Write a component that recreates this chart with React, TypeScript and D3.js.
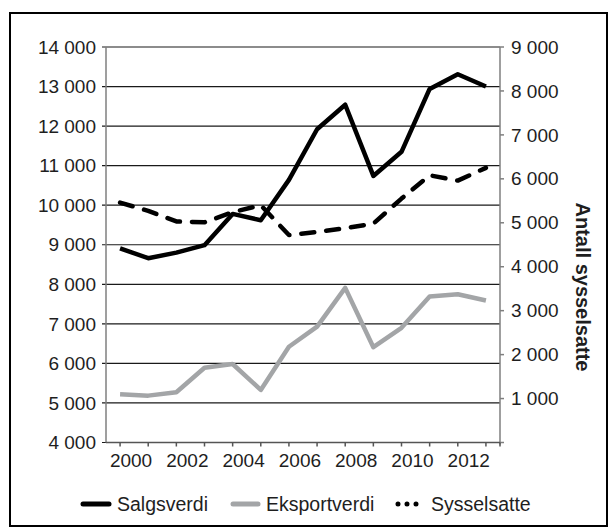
import React from "react";
import * as d3 from "d3";

const years = [2000, 2001, 2002, 2003, 2004, 2005, 2006, 2007, 2008, 2009, 2010, 2011, 2012, 2013];
const xLabels = ["2000", "2002", "2004", "2006", "2008", "2010", "2012"];
const salgsverdi = [8910, 8660, 8800, 8990, 9780, 9620, 10640, 11920, 12540, 10740, 11350, 12940, 13310, 13000];
const eksportverdi = [5220, 5185, 5270, 5890, 5985, 5330, 6420, 6930, 7910, 6410, 6900, 7690, 7750, 7590];
const sysselsatte = [5460, 5270, 5030, 5010, 5240, 5400, 4720, 4790, 4880, 4980, 5550, 6080, 5960, 6250];
const leftTicks = [4000, 5000, 6000, 7000, 8000, 9000, 10000, 11000, 12000, 13000, 14000];
const rightTicks = [0, 1000, 2000, 3000, 4000, 5000, 6000, 7000, 8000, 9000];
const seriesNames = ["Salgsverdi", "Eksportverdi", "Sysselsatte"];

const W = 611;
const H = 530;
const left = 106;
const right = 500;
const top = 47;
const bottom = 442.5;

const fmt = d3.formatLocale({ decimal: ",", thousands: "\u00a0", grouping: [3], currency: ["", " kr"] }).format(",d");
const FONT = "'Liberation Sans', Arial, sans-serif";
const TXT = "#1e1e1e";

export default function App() {
  const x = d3.scaleLinear().domain([-0.5, years.length - 0.5]).range([left, right]);
  const yL = d3.scaleLinear().domain([4000, 14000]).range([bottom, top]);
  const yR = d3.scaleLinear().domain([0, 9000]).range([bottom, top]);
  const step = x(1) - x(0);

  const lineL = d3.line<number>().x((_, i) => x(i)).y((d) => yL(d));
  const lineR = d3.line<number>().x((_, i) => x(i)).y((d) => yR(d));

  const xTicks = d3.range(0, years.length).concat([years.length - 0.5]);

  const legendY = 504;
  const legendItems = [
    { name: seriesNames[0], x0: 83, x1: 109, tx: 117, color: "#000", dash: undefined, w: 5 },
    { name: seriesNames[1], x0: 233, x1: 258, tx: 266, color: "#a3a5a7", dash: undefined, w: 5 },
    { name: seriesNames[2], x0: 398, x1: 422, tx: 431, color: "#000", dash: "0 9", w: 5 },
  ];

  return (
    <svg width={W} height={H} style={{ position: "absolute", left: 0, top: 0, background: "#fff" }}>
      <rect x={10} y={13} width={597} height={513} fill="#fff" stroke="#000" strokeWidth={2} />
      {/* gridlines */}
      {leftTicks.map((t) => (
        <line key={"g" + t} x1={left - 4} x2={right} y1={yL(t)} y2={yL(t)} stroke="#1a1a1a" strokeWidth={1.2} />
      ))}
      {/* left axis */}
      <line x1={left} x2={left} y1={top} y2={bottom} stroke="#7f7f7f" strokeWidth={1.5} />
      {leftTicks.map((t) => (
        <text key={"lt" + t} x={96} y={yL(t)} dy="0.35em" textAnchor="end" fontFamily={FONT} fontSize={19} fill={TXT}>
          {fmt(t)}
        </text>
      ))}
      {/* right axis */}
      <line x1={right} x2={right} y1={top} y2={bottom + 2} stroke="#7f7f7f" strokeWidth={1.5} />
      {rightTicks.map((t) => (
        <line key={"rt" + t} x1={right} x2={right + 4} y1={yR(t)} y2={yR(t)} stroke="#7f7f7f" strokeWidth={1.5} />
      ))}
      {rightTicks.filter((t) => t > 0).map((t) => (
        <text key={"rl" + t} x={511} y={yR(t)} dy="0.35em" textAnchor="start" fontFamily={FONT} fontSize={19} fill={TXT}>
          {fmt(t)}
        </text>
      ))}
      <text
        transform={`translate(${583},${287}) rotate(90)`}
        textAnchor="middle"
        dy="0.35em"
        fontFamily={FONT}
        fontSize={20}
        fontWeight="bold"
        fill={TXT}
      >
        Antall sysselsatte
      </text>
      {/* x axis */}
      <line x1={left} x2={right} y1={bottom} y2={bottom} stroke="#555" strokeWidth={1.5} />
      {xTicks.map((t) => (
        <line key={"xt" + t} x1={x(t)} x2={x(t)} y1={bottom} y2={bottom + 4} stroke="#555" strokeWidth={1.5} />
      ))}
      {xLabels.map((lab) => {
        const i = years.indexOf(+lab);
        return (
          <text key={"xl" + lab} x={x(i) + step * 0.39} y={bottom + 24} textAnchor="middle" fontFamily={FONT} fontSize={19} fill={TXT}>
            {lab}
          </text>
        );
      })}
      {/* series */}
      <path d={lineL(eksportverdi) || ""} fill="none" stroke="#a3a5a7" strokeWidth={4.5} strokeLinejoin="round" />
      <path d={lineR(sysselsatte) || ""} fill="none" stroke="#000" strokeWidth={4.5} strokeDasharray="13 12" strokeLinecap="round" strokeLinejoin="round" />
      <path d={lineL(salgsverdi) || ""} fill="none" stroke="#000" strokeWidth={4.5} strokeLinejoin="round" />
      {/* legend */}
      {legendItems.map((it) => (
        <g key={it.name}>
          <line
            x1={it.x0}
            x2={it.x1}
            y1={legendY}
            y2={legendY}
            stroke={it.color}
            strokeWidth={it.w}
            strokeLinecap="round"
            strokeDasharray={it.dash}
          />
          <text x={it.tx} y={legendY} dy="0.35em" fontFamily={FONT} fontSize={19.5} fill={TXT}>
            {it.name}
          </text>
        </g>
      ))}
    </svg>
  );
}
